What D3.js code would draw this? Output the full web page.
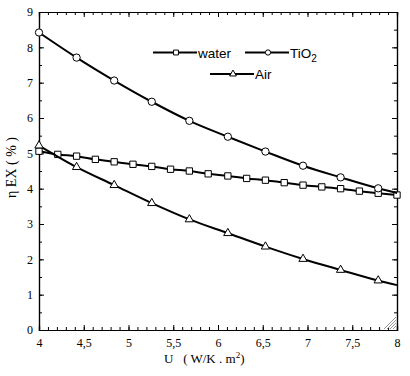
<!DOCTYPE html>
<html>
<head>
<meta charset="utf-8">
<script src="https://cdn.jsdelivr.net/npm/d3@7"></script>
<style>
    body { margin: 0; background: #fff; }
    #chart-area { width: 410px; height: 376px; }
</style>
</head>
<body>
<div id="chart-area"></div>
<script>

// U values (W/K.m2), 20 computed points from 4 to 8
let uValues = [4, 4.21, 4.42, 4.63, 4.84, 5.05, 5.26, 5.47, 5.68, 5.89,
               6.11, 6.32, 6.53, 6.74, 6.95, 7.16, 7.37, 7.58, 7.79, 8];

let waterValues = [5.06, 4.97, 4.92, 4.83, 4.76, 4.69, 4.63, 4.55, 4.50, 4.42,
                   4.36, 4.29, 4.24, 4.17, 4.10, 4.05, 4.00, 3.93, 3.87, 3.82];

// TiO2 and Air were plotted every second point, plus the end of the line at U = 8
let u2Values = [4, 4.42, 4.84, 5.26, 5.68, 6.11, 6.53, 6.95, 7.37, 7.79, 8];
let tio2Values = [8.42, 7.71, 7.06, 6.46, 5.92, 5.47, 5.05, 4.65, 4.32, 4.01, 3.88];
let airValues = [5.22, 4.61, 4.10, 3.59, 3.13, 2.74, 2.36, 2.01, 1.70, 1.40, 1.27];

let xTicks = [4, 4.5, 5, 5.5, 6, 6.5, 7, 7.5, 8];
let yTicks = [0, 1, 2, 3, 4, 5, 6, 7, 8, 9];

class exergyChart {

    constructor(_parentElement) {
        this.parentElement = _parentElement;

        this.series = [
            {name: "water", symbol: d3.symbolSquare, size: 40, legendSize: 24,
             data: uValues.map((u, i) => ({u: u, v: waterValues[i], mark: true}))},
            {name: "TiO2", symbol: d3.symbolCircle, size: 42, legendSize: 22,
             data: u2Values.map((u, i) => ({u: u, v: tio2Values[i], mark: u < 8}))},
            {name: "Air", symbol: d3.symbolTriangle, size: 30, legendSize: 20,
             data: u2Values.map((u, i) => ({u: u, v: airValues[i], mark: u < 8}))}
        ];

        this.initVis();
    }

    initVis() {
        let vis = this;

        vis.margin = {top: 12, right: 13, bottom: 46, left: 39};
        vis.width = 410 - vis.margin.left - vis.margin.right;
        vis.height = 376 - vis.margin.top - vis.margin.bottom;

        vis.svg = d3.select("#" + vis.parentElement).append("svg")
            .attr("width", 410)
            .attr("height", 376)
            .append("g")
            .attr("transform", "translate(" + vis.margin.left + "," + vis.margin.top + ")");

        vis.x = d3.scaleLinear().domain([4, 8]).range([0, vis.width]);
        vis.y = d3.scaleLinear().domain([0, 9]).range([vis.height, 0]);

        let fmt = d => String(d).replace(".", ",");
        let minorX = d3.range(40, 81).map(d => d / 10);
        let minorY = d3.range(0, 19).map(d => d / 2);

        // minor ticks on all four sides (inside)
        vis.svg.append("g").attr("transform", "translate(0," + vis.height + ")")
            .call(d3.axisBottom(vis.x).tickValues(minorX).tickSize(-3).tickFormat(""));
        vis.svg.append("g")
            .call(d3.axisTop(vis.x).tickValues(minorX).tickSize(-3).tickFormat(""));
        vis.svg.append("g")
            .call(d3.axisLeft(vis.y).tickValues(minorY).tickSize(-3).tickFormat(""));
        vis.svg.append("g").attr("transform", "translate(" + vis.width + ",0)")
            .call(d3.axisRight(vis.y).tickValues(minorY).tickSize(-3).tickFormat(""));

        // major ticks
        vis.svg.append("g").attr("class", "axis x-axis")
            .attr("transform", "translate(0," + vis.height + ")")
            .call(d3.axisBottom(vis.x).tickValues(xTicks).tickSize(-5).tickPadding(8).tickFormat(fmt));
        vis.svg.append("g")
            .call(d3.axisTop(vis.x).tickValues(xTicks).tickSize(-5).tickFormat(""));
        vis.svg.append("g").attr("class", "axis y-axis")
            .call(d3.axisLeft(vis.y).tickValues(yTicks).tickSize(-5).tickPadding(6).tickFormat(fmt));
        vis.svg.append("g").attr("transform", "translate(" + vis.width + ",0)")
            .call(d3.axisRight(vis.y).tickValues(yTicks).tickSize(-5).tickFormat(""));

        vis.svg.selectAll(".domain").attr("stroke", "#000").attr("stroke-width", 1.2);
        vis.svg.selectAll(".tick line").attr("stroke", "#000");
        vis.svg.selectAll(".axis text")
            .attr("font-family", "'Liberation Serif', 'Times New Roman', serif")
            .attr("font-size", 12)
            .attr("fill", "#000");

        // axis titles
        let xTitle = vis.svg.append("text")
            .attr("x", 125)
            .attr("y", vis.height + 33)
            .attr("font-family", "'Liberation Serif', 'Times New Roman', serif")
            .attr("font-size", 13);
        xTitle.append("tspan").attr("xml:space", "preserve").text("U   ( W/K . m");
        xTitle.append("tspan").attr("dy", -5).attr("font-size", 9).text("2");
        xTitle.append("tspan").attr("dy", 5).text(")");

        vis.svg.append("text")
            .attr("transform", "translate(-23," + (vis.y(4.6)) + ") rotate(-90)")
            .attr("text-anchor", "middle")
            .attr("font-family", "'Liberation Serif', 'Times New Roman', serif")
            .attr("font-size", 14)
            .attr("xml:space", "preserve")
            .text("\u03b7 EX ( % )");

        // curves
        let line = d3.line()
            .x(d => vis.x(d.u))
            .y(d => vis.y(d.v))
            .curve(d3.curveMonotoneX);

        vis.series.forEach(s => {
            vis.svg.append("path")
                .attr("fill", "none")
                .attr("stroke", "#000")
                .attr("stroke-width", 2)
                .attr("d", line(s.data));

            vis.svg.selectAll(".mk-" + s.name)
                .data(s.data.filter(d => d.mark))
                .enter().append("path")
                .attr("d", d3.symbol().type(s.symbol).size(s.size))
                .attr("transform", d => "translate(" + vis.x(d.u) + "," + vis.y(d.v) + ")")
                .attr("fill", "#fff")
                .attr("stroke", "#000")
                .attr("stroke-width", 1);
        });

        // legend
        let legendPos = [[114, 40.5], [206, 40.5], [171, 62]];
        vis.series.forEach((s, i) => {
            let g = vis.svg.append("g")
                .attr("transform", "translate(" + legendPos[i][0] + "," + legendPos[i][1] + ")");
            g.append("line").attr("x1", 0).attr("x2", 44)
                .attr("stroke", "#000").attr("stroke-width", 2);
            g.append("path")
                .attr("d", d3.symbol().type(s.symbol).size(s.legendSize))
                .attr("transform", "translate(23,0)")
                .attr("fill", "#fff").attr("stroke", "#000");
            let t = g.append("text")
                .attr("x", 45)
                .attr("y", 5)
                .attr("font-family", "'Liberation Sans', Arial, sans-serif")
                .attr("font-size", 13.5);
            if (s.name == "TiO2") {
                t.append("tspan").text("TiO");
                t.append("tspan").attr("dy", 4).attr("font-size", 10).text("2");
            } else {
                t.text(s.name);
            }
        });

        // size grip in the corner
        let grip = vis.svg.append("g")
            .attr("transform", "translate(" + (vis.width - 1) + "," + (vis.height - 1) + ")");
        [3, 6, 9, 12].forEach(k => {
            grip.append("line")
                .attr("x1", -k).attr("y1", 0).attr("x2", 0).attr("y2", -k)
                .attr("stroke", "#999").attr("stroke-width", 1);
        });
    }
}

let chart = new exergyChart("chart-area");

</script>
</body>
</html>
